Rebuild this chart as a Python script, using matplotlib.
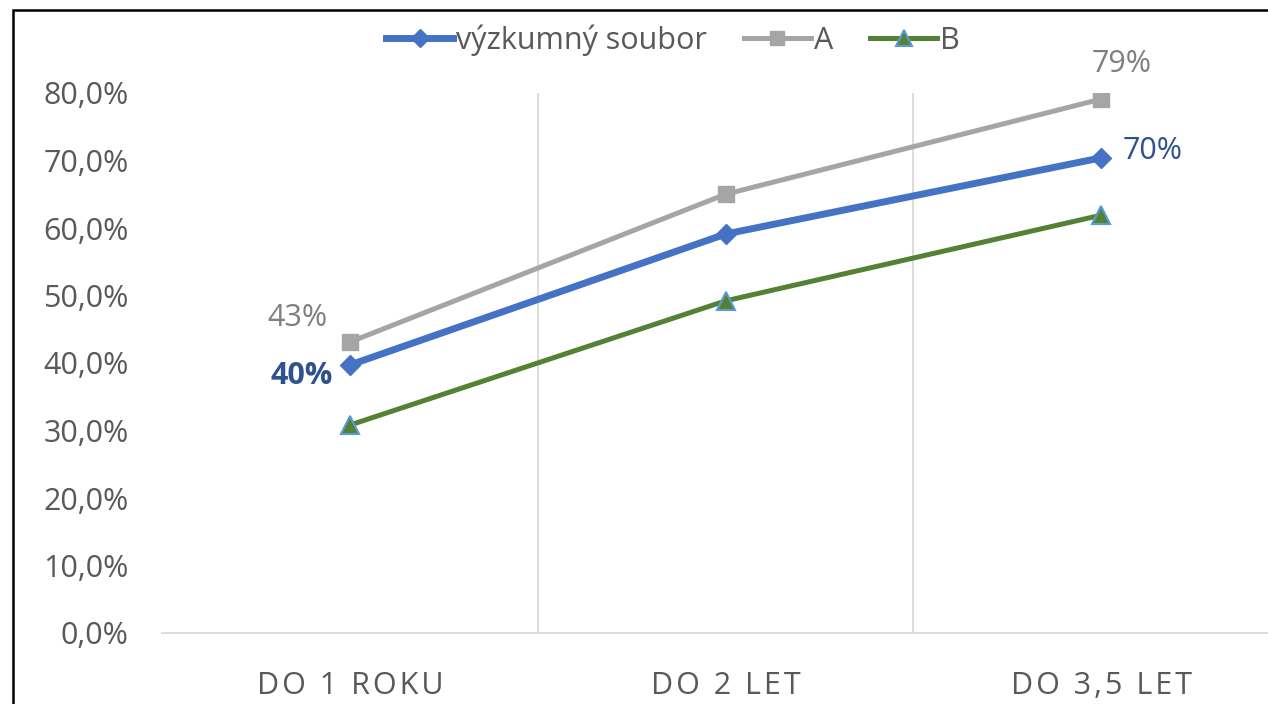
import matplotlib.pyplot as plt
from matplotlib.patches import Rectangle
from matplotlib.ticker import FixedLocator

categories = ["DO 1 ROKU", "DO 2 LET", "DO 3,5 LET"]
vyzkumny = [39.7, 59.1, 70.4]
serie_a = [43.1, 65.0, 79.1]
serie_b = [30.8, 49.2, 61.9]
yticks = [0, 10, 20, 30, 40, 50, 60, 70, 80]

plt.rcParams['font.family'] = ['Open Sans', 'DejaVu Sans']

fig = plt.figure(figsize=(12.68, 7.04), dpi=100)
ax = fig.add_axes([162 / 1268, 1 - 633 / 704, 1127 / 1268, 540 / 704])

x = list(range(len(categories)))
ax.plot(x, serie_a, color='#a5a5a5', lw=3.6, marker='s', ms=11, mfc='#a5a5a5', mec='#a5a5a5',
        label='A', zorder=3)
ax.plot(x, vyzkumny, color='#4472c4', lw=5, marker='D', ms=10, mfc='#4472c4', mec='#4472c4',
        label='výzkumný soubor', zorder=4)
ax.plot(x, serie_b, color='#548235', lw=3.6, marker='^', ms=13, mfc='#548235', mec='#5b9bd5',
        mew=1.5, label='B', zorder=3)

ax.set_xlim(-0.5, 2.5)
ax.set_ylim(0, 80)
ax.set_yticks(yticks)
ax.set_yticklabels([f"{v:.1f}%".replace('.', ',') for v in yticks])
ax.set_xticks(x)
ax.set_xticklabels(['\u200a'.join(c) for c in categories])
ax.xaxis.set_minor_locator(FixedLocator([0.5, 1.5]))
ax.grid(which='minor', axis='x', color='#d9d9d9', lw=1.3)
ax.tick_params(which='both', length=0)
ax.tick_params(axis='y', labelsize=22, labelcolor='#595959', pad=24)
ax.tick_params(axis='x', labelsize=22, labelcolor='#595959', pad=27)
for s in ['top', 'right', 'left']:
    ax.spines[s].set_visible(False)
ax.spines['bottom'].set_color('#d9d9d9')
ax.spines['bottom'].set_linewidth(1.3)

ax.annotate(f"{serie_a[0]:.0f}%", (0, serie_a[0]), xytext=(-38, 17), textcoords='offset points',
            ha='center', va='center', fontsize=22, color='#7f7f7f')
ax.annotate(f"{vyzkumny[0]:.0f}%", (0, vyzkumny[0]), xytext=(-35, -8), textcoords='offset points',
            ha='center', va='center', fontsize=22, color='#2f528f', fontweight='bold')
ax.annotate(f"{serie_a[2]:.0f}%", (2, serie_a[2]), xytext=(15, 25), textcoords='offset points',
            ha='center', va='center', fontsize=22, color='#7f7f7f')
ax.annotate(f"{vyzkumny[2]:.0f}%", (2, vyzkumny[2]), xytext=(37, 5), textcoords='offset points',
            ha='center', va='center', fontsize=22, color='#2f528f')

handles, labels = ax.get_legend_handles_labels()
order = [1, 0, 2]
fig.legend([handles[i] for i in order], [labels[i] for i in order], loc='center',
           bbox_to_anchor=(673 / 1268, 1 - 40 / 704), ncol=3, frameon=False, fontsize=22,
           labelcolor='#595959', handlelength=2.2, handletextpad=0.1, columnspacing=1.2,
           markerscale=0.9)

fig.patches.append(Rectangle((13 / 1268, -0.1), 1.2, 1 - 10 / 704 + 0.1, transform=fig.transFigure,
                             fill=False, edgecolor='black', lw=1.8))

fig.savefig('out.png', dpi=100)
